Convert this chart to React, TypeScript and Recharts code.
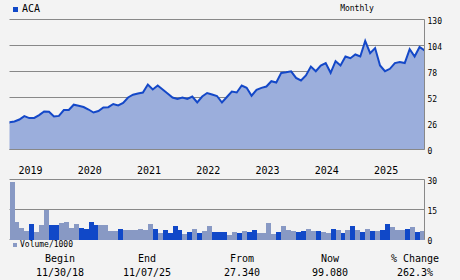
import React from 'react';
import { AreaChart, Area, XAxis, YAxis, CartesianGrid, BarChart, Bar, Cell } from 'recharts';

const FONT = '"DejaVu Sans Mono", monospace';
const BG = '#f3f3f3';
const GRID = '#888888';
const LINE_BLUE = '#1448c8';
const AREA_FILL = '#9baedc';
const VOL_UP = '#8899c4';
const VOL_DOWN = '#1048c8';

// Month categories: Nov 2018 .. Nov 2025 (85 monthly points)
const months: string[] = [];
for (let k = 0; k < 85; k++) {
  const m0 = 10 + k; // Nov 2018 = month index 10 of 2018
  const y = 2018 + Math.floor(m0 / 12);
  const m = (m0 % 12) + 1;
  months.push(`${y}-${m < 10 ? '0' + m : m}`);
}

const priceValues = [
  27.34, 28, 30, 33.4, 31.4, 31.6, 34.4, 38, 37.8, 33,
  33.6, 39.4, 39.6, 44.8, 43.8, 42.5, 40, 37, 38.5, 42,
  42.3, 45.5, 44, 46.5, 52, 54.8, 56, 57, 65, 60,
  64, 60, 56, 52, 50.5, 52, 50.5, 53, 47, 53,
  56.5, 55, 53.5, 47, 52.5, 58, 57, 64, 61.7, 53.8,
  59.6, 61.6, 63, 68.3, 67, 76.6, 77.3, 78.2, 71.6, 69,
  74, 83, 78.3, 84, 86.4, 76.7, 88.3, 84, 93, 91.3,
  95, 93, 108.5, 96.4, 101.4, 84, 78.3, 80.7, 86.4, 87.4,
  86.4, 100.3, 93, 102.5, 99.08,
];

const volumeValues = [
  28.8, 9, 5.7, 4.5, 8, 4, 7.5, 14.6, 7.5, 7.5,
  8.2, 9, 6, 8, 6, 5.5, 9, 7.5, 7.5, 7.5,
  4.5, 4.5, 5.5, 5, 5, 5, 5.5, 5, 8, 5.5,
  3.5, 5, 3.5, 7, 5, 3, 4, 5.5, 3.5, 4.5,
  7, 4, 4, 4, 2.5, 4, 3.5, 4.5, 4, 5,
  3.5, 3.5, 8.5, 3, 4, 7, 5, 4.5, 4, 4.5,
  5.5, 4.5, 4.5, 4, 3.5, 5.5, 5, 3.5, 5, 7,
  5, 4, 5.5, 4.5, 4.5, 5, 8, 6.5, 5, 5,
  5.5, 6.5, 4, 4.5,
];

const yearTicks = ['2019-01', '2020-01', '2021-01', '2022-01', '2023-01', '2024-01', '2025-01'];
const priceTicks = [0, 26, 52, 78, 104, 130];
const volumeTicks = [0, 15, 30];

const summaryLabels = ['Begin', 'End', 'From', 'Now', '% Change'];
const summaryValues = ['11/30/18', '11/07/25', '27.340', '99.080', '262.3%'];
const summaryCenters = [60, 147, 242, 330, 415];

const priceData = months.map((m, i) => ({ m, price: priceValues[i] }));
const volumeData = volumeValues.map((v, i) => ({
  m: months[i],
  vol: v,
  down: i > 0 && priceValues[i] < priceValues[i - 1],
}));

const YearTick = (props: any) => {
  const { x, y, payload } = props;
  return (
    <text x={x - 1} y={y + 24} fontSize={10} fontFamily={FONT} fill="#000" textAnchor="start">
      {String(payload.value).slice(0, 4)}
    </text>
  );
};

const rightTick = { fontSize: 8, fontFamily: FONT, fill: '#000', dy: 2 } as any;

export default function App() {
  return (
    <div style={{ position: 'absolute', left: 0, top: 0, width: 460, height: 280, background: BG, overflow: 'hidden', fontFamily: FONT, color: '#000' }}>
      {/* Title */}
      <div style={{ position: 'absolute', left: 13, top: 7, width: 5, height: 5, background: VOL_DOWN }} />
      <div style={{ position: 'absolute', left: 22, top: 3, fontSize: 10, lineHeight: '12px' }}>ACA</div>
      <div style={{ position: 'absolute', left: 307, width: 100, top: 4, fontSize: 8, lineHeight: '10px', textAlign: 'center' }}>Monthly</div>

      <div style={{ position: 'absolute', left: 0, top: 0 }}>
        <AreaChart width={460} height={180} data={priceData} margin={{ top: 19.5, right: 0, left: 9.5, bottom: 0 }}>
          <CartesianGrid vertical={false} stroke={GRID} strokeDasharray="" />
          <XAxis
            dataKey="m"
            ticks={yearTicks}
            interval={0}
            tick={<YearTick />}
            tickLine={false}
            tickSize={0}
            tickMargin={0}
            height={30.5}
            axisLine={{ stroke: GRID }}
          />
          <YAxis yAxisId="l" orientation="left" width={0} tick={false} tickLine={false} axisLine={{ stroke: GRID }} domain={[0, 130]} />
          <YAxis
            orientation="right"
            width={35.5}
            domain={[0, 130]}
            ticks={priceTicks}
            interval={0}
            tick={rightTick}
            tickLine={false}
            tickSize={0}
            tickMargin={3}
            axisLine={{ stroke: GRID }}
          />
          <Area
            type="linear"
            dataKey="price"
            stroke={LINE_BLUE}
            strokeWidth={2}
            fill={AREA_FILL}
            fillOpacity={1}
            dot={false}
            activeDot={false}
            isAnimationActive={false}
          />
        </AreaChart>
      </div>

      <div style={{ position: 'absolute', left: 0, top: 175 }}>
        <BarChart width={460} height={70} data={volumeData} margin={{ top: 4.5, right: 0, left: 9.5, bottom: 5.5 }} barCategoryGap={0} barGap={0}>
          <CartesianGrid vertical={false} stroke={GRID} />
          <XAxis dataKey="m" hide />
          <YAxis yAxisId="l" orientation="left" width={0} tick={false} tickLine={false} axisLine={{ stroke: GRID }} domain={[0, 30]} />
          <YAxis
            orientation="right"
            width={35.5}
            domain={[0, 30]}
            ticks={volumeTicks}
            interval={0}
            tick={rightTick}
            tickLine={false}
            tickSize={0}
            tickMargin={3}
            axisLine={{ stroke: GRID }}
          />
          <Bar dataKey="vol" isAnimationActive={false} shapeRendering="crispEdges">
            {volumeData.map((d, i) => (
              <Cell key={i} fill={d.down ? VOL_DOWN : VOL_UP} shapeRendering="crispEdges" />
            ))}
          </Bar>
        </BarChart>
      </div>

      {/* Volume legend */}
      <div style={{ position: 'absolute', left: 13, top: 243, width: 4, height: 4, background: VOL_UP }} />
      <div style={{ position: 'absolute', left: 20, top: 240, fontSize: 8, lineHeight: '10px' }}>Volume/1000</div>

      {summaryLabels.map((s, i) => (
        <div key={s} style={{ position: 'absolute', left: summaryCenters[i] - 40, width: 80, top: 253, fontSize: 10, lineHeight: '12px', textAlign: 'center', whiteSpace: 'pre' }}>
          {s}
        </div>
      ))}
      {summaryValues.map((s, i) => (
        <div key={s} style={{ position: 'absolute', left: summaryCenters[i] - 40, width: 80, top: 267, fontSize: 10, lineHeight: '12px', textAlign: 'center' }}>
          {s}
        </div>
      ))}
    </div>
  );
}
